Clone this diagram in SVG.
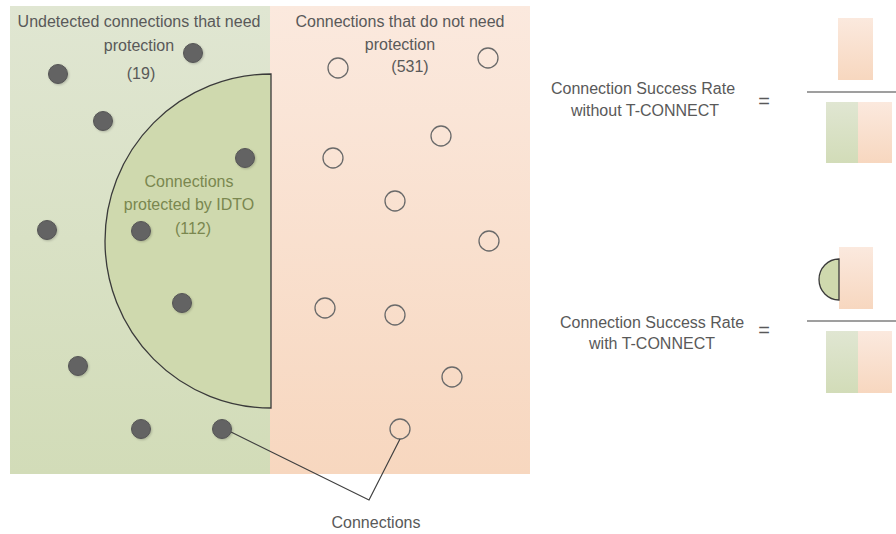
<svg xmlns="http://www.w3.org/2000/svg" width="896" height="534" viewBox="0 0 896 534">
<defs>
<linearGradient id="gGreen" x1="0" y1="0" x2="0" y2="1"><stop offset="0" stop-color="#e0e6d2"/><stop offset="1" stop-color="#d2dcb8"/></linearGradient>
<linearGradient id="gOrange" x1="0" y1="0" x2="0" y2="1"><stop offset="0" stop-color="#fbe9de"/><stop offset="1" stop-color="#f7d7bf"/></linearGradient>
<filter id="sh" x="-50%" y="-50%" width="200%" height="200%"><feDropShadow dx="1" dy="1" stdDeviation="0.8" flood-color="#000" flood-opacity="0.2"/></filter>
</defs>
<style>
.t{font-family:"Liberation Sans",Arial,sans-serif;font-size:16px;fill:#595959;text-anchor:middle}
.tg{font-family:"Liberation Sans",Arial,sans-serif;font-size:16px;fill:#7a874f;text-anchor:middle}
.eq{font-family:"Liberation Sans",Arial,sans-serif;font-size:20px;fill:#595959;text-anchor:middle}
.dot{fill:#636363;stroke:#555;stroke-width:1;filter:url(#sh)}
.open{fill:none;stroke:#6a6a6a;stroke-width:1.3}
.semi{fill:#cfd9ae;stroke:#3a3a3a;stroke-width:1.3}
.line{stroke:#404040;stroke-width:1.2;fill:none}
.frac{stroke:#404040;stroke-width:1.2}
</style>
<rect x="10" y="6" width="260" height="468" fill="url(#gGreen)"/>
<rect x="270" y="6" width="260" height="468" fill="url(#gOrange)"/>
<g id="idto"><path class="semi" d="M271,74 A166,167 0 0 0 271,408 Z"/>
<text class="tg" x="189" y="187">Connections</text>
<text class="tg" x="189" y="210">protected by IDTO</text>
<text class="tg" x="193" y="234">(112)</text></g>
<g id="undetected"><text class="t" x="139" y="27">Undetected connections that need</text>
<text class="t" x="139" y="51">protection</text>
<text class="t" x="141" y="79">(19)</text></g>
<g id="notneed"><text class="t" x="400" y="27">Connections that do not need</text>
<text class="t" x="400" y="50">protection</text>
<text class="t" x="410" y="72">(531)</text></g>
<g id="dots">
<circle class="dot" cx="58" cy="74" r="9.5"/><circle class="dot" cx="193" cy="53" r="9.5"/>
<circle class="dot" cx="103" cy="121" r="9.5"/><circle class="dot" cx="245" cy="158" r="9.5"/>
<circle class="dot" cx="47" cy="230" r="9.5"/><circle class="dot" cx="141" cy="231" r="9.5"/>
<circle class="dot" cx="182" cy="303" r="9.5"/><circle class="dot" cx="78" cy="366" r="9.5"/>
<circle class="dot" cx="141" cy="429" r="9.5"/><circle class="dot" cx="222" cy="429" r="9.5"/>
</g>
<g id="open">
<circle class="open" cx="338" cy="68" r="10"/><circle class="open" cx="488" cy="58" r="10"/>
<circle class="open" cx="441" cy="136" r="10"/><circle class="open" cx="333" cy="158" r="10"/>
<circle class="open" cx="395" cy="201" r="10"/><circle class="open" cx="489" cy="241" r="10"/>
<circle class="open" cx="325" cy="308" r="10"/><circle class="open" cx="395" cy="315" r="10"/>
<circle class="open" cx="452" cy="377" r="10"/><circle class="open" cx="400" cy="429" r="10"/>
</g>
<g id="connectors"><polyline class="line" points="231,432 369,500 400,439"/></g>
<g id="label"><text class="t" x="376" y="528">Connections</text></g>
<g id="eq1">
<text class="t" x="643" y="94">Connection Success Rate</text>
<text class="t" x="645" y="116">without T-CONNECT</text>
<text class="eq" x="764" y="108">=</text>
<rect x="838" y="18" width="35" height="62" fill="url(#gOrange)"/>
<line class="frac" x1="807" y1="92" x2="896" y2="92"/>
<rect x="826" y="102" width="32" height="61" fill="url(#gGreen)"/>
<rect x="858" y="102" width="34" height="61" fill="url(#gOrange)"/>
</g>
<g id="eq2">
<text class="t" x="652" y="328">Connection Success Rate</text>
<text class="t" x="652" y="349">with T-CONNECT</text>
<text class="eq" x="764" y="337">=</text>
<rect x="839" y="247" width="34" height="62" fill="url(#gOrange)"/>
<path class="semi" d="M839,259 A20,20.5 0 0 0 839,300 Z"/>
<line class="frac" x1="807" y1="321" x2="896" y2="321"/>
<rect x="826" y="331" width="32" height="62" fill="url(#gGreen)"/>
<rect x="858" y="331" width="34" height="62" fill="url(#gOrange)"/>
</g>
</svg>
